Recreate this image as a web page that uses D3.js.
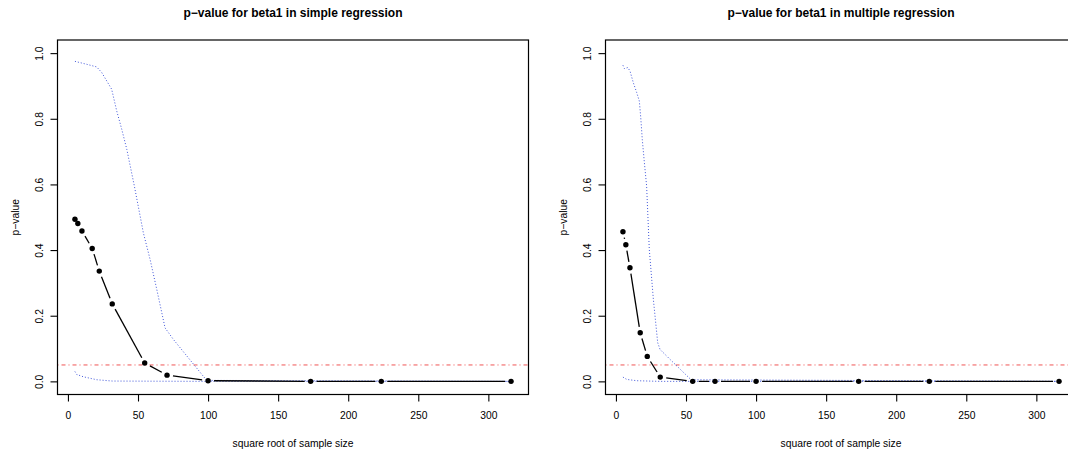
<!DOCTYPE html>
<html>
<head>
<meta charset="utf-8">
<script src="https://cdn.jsdelivr.net/npm/d3@7"></script>
<style>
  body { margin: 0; background: #fff; }
  svg { display: block; font-family: 'Liberation Sans', Arial, sans-serif; }
</style>
</head>
<body>
<svg id="chart" width="1068" height="453"></svg>
<script>
// p-values for beta1 vs square root of sample size, two panels

const sqrtN = [5, 7.07, 10, 17.32, 22.36, 31.62, 54.77, 70.71, 100, 173.2, 223.6, 316.2];
const pSimple = [0.494, 0.481, 0.458, 0.405, 0.336, 0.236, 0.056, 0.019, 0.002, 0, 0, 0];
const pMultiple = [0.456, 0.416, 0.346, 0.148, 0.076, 0.013, 0, 0, 0, 0, 0, 0];

// dotted blue bounds
const upperSimpleX = [5, 13.4, 20.5, 24.1, 31.2, 34.8, 38.4, 42, 47.4, 53.8, 58.6, 63.4, 69.3, 75.2, 99, 316.2];
const upperSimpleY = [0.975, 0.966, 0.958, 0.941, 0.89, 0.824, 0.768, 0.707, 0.595, 0.453, 0.372, 0.28, 0.163, 0.128, 0.003, 0];
const lowerSimpleX = [5, 6.3, 11, 20.5, 31.6, 100, 316.2];
const lowerSimpleY = [0.03, 0.021, 0.014, 0.005, 0.001, 0, 0];

const upperMultipleX = [5, 6, 8.4, 10, 12.4, 14.8, 16.7, 17.7, 18.8, 20.3, 21.9, 23.8, 26.7, 29.8, 31.5, 41, 53.6, 316.2];
const upperMultipleY = [0.963, 0.953, 0.956, 0.946, 0.91, 0.88, 0.854, 0.804, 0.737, 0.666, 0.595, 0.402, 0.25, 0.118, 0.097, 0.057, 0.005, 0];
const lowerMultipleX = [5, 7.7, 14.8, 31.6, 316.2];
const lowerMultipleY = [0.013, 0.006, 0.002, 0, 0];

const xTicks = [0, 50, 100, 150, 200, 250, 300];
const yTicks = [0, 0.2, 0.4, 0.6, 0.8, 1.0];
const alpha = 0.05;

const panels = [
  { title: 'p\u2212value for beta1 in simple regression', left: 57.5, p: pSimple,
    upX: upperSimpleX, upY: upperSimpleY, loX: lowerSimpleX, loY: lowerSimpleY },
  { title: 'p\u2212value for beta1 in multiple regression', left: 605.5, p: pMultiple,
    upX: upperMultipleX, upY: upperMultipleY, loX: lowerMultipleX, loY: lowerMultipleY }
];

const svg = d3.select('#chart');
const boxW = 471, boxTop = 40, boxBottom = 394.5;
const fs = 10.3;

// R-style 4% extension of the data range
const xr = d3.extent(sqrtN), xpad = (xr[1] - xr[0]) * 0.04;

panels.forEach(pn => {
  const g = svg.append('g');
  const x = d3.scaleLinear().domain([xr[0] - xpad, xr[1] + xpad]).range([pn.left, pn.left + boxW]);
  const y = d3.scaleLinear().domain([-0.04, 1.04]).range([boxBottom, boxTop]);

  // clip for lines inside box
  const clipId = 'clip' + Math.round(pn.left);
  svg.append('clipPath').attr('id', clipId)
    .append('rect').attr('x', pn.left).attr('y', boxTop).attr('width', boxW).attr('height', boxBottom - boxTop);
  const inner = g.append('g').attr('clip-path', `url(#${clipId})`);

  // alpha line
  inner.append('line')
    .attr('x1', pn.left).attr('x2', pn.left + boxW)
    .attr('y1', y(alpha)).attr('y2', y(alpha))
    .attr('stroke', '#ee2b2b').attr('stroke-opacity', 0.8)
    .attr('stroke-width', 1).attr('stroke-dasharray', '1,3,4,3');

  // dotted bounds
  const line = d3.line().x(d => x(d[0])).y(d => y(d[1]));
  [[pn.upX, pn.upY], [pn.loX, pn.loY]].forEach(([xs, ys]) => {
    inner.append('path')
      .attr('d', line(xs.map((v, i) => [v, ys[i]])))
      .attr('fill', 'none')
      .attr('stroke', '#3f55d8')
      .attr('stroke-width', 1)
      .attr('stroke-dasharray', '1,2');
  });

  // type="b" line: segments with gaps around points
  const pts = sqrtN.map((v, i) => [x(v), y(pn.p[i])]);
  const gap = 6;
  for (let i = 0; i < pts.length - 1; i++) {
    const [x1, y1] = pts[i], [x2, y2] = pts[i + 1];
    const len = Math.hypot(x2 - x1, y2 - y1);
    if (len <= 2 * gap) continue;
    const ux = (x2 - x1) / len, uy = (y2 - y1) / len;
    inner.append('line')
      .attr('x1', x1 + ux * gap).attr('y1', y1 + uy * gap)
      .attr('x2', x2 - ux * gap).attr('y2', y2 - uy * gap)
      .attr('stroke', '#000').attr('stroke-width', 1.3);
  }
  inner.selectAll('circle.pt')
    .data(sqrtN)
    .join('circle')
    .attr('class', 'pt')
    .attr('cx', d => x(d))
    .attr('cy', (d, i) => y(pn.p[i]))
    .attr('r', 2.7)
    .attr('fill', '#000');

  // box
  g.append('rect')
    .attr('x', pn.left).attr('y', boxTop)
    .attr('width', boxW).attr('height', boxBottom - boxTop)
    .attr('fill', 'none').attr('stroke', '#000').attr('stroke-width', 1.2);

  // x axis
  const xa = g.append('g')
    .attr('transform', `translate(0,${boxBottom})`)
    .call(d3.axisBottom(x).tickValues(xTicks).tickSize(7).tickSizeOuter(0).tickPadding(10));
  xa.select('.domain').remove();
  xa.selectAll('line').attr('stroke', '#000').attr('stroke-width', 1.1);
  xa.selectAll('text').attr('font-size', fs).attr('fill', '#000');
  xa.attr('font-family', null);

  // y axis with rotated labels
  const ya = g.append('g')
    .attr('transform', `translate(${pn.left},0)`)
    .call(d3.axisLeft(y).tickValues(yTicks).tickFormat(d3.format('.1f')).tickSize(7).tickSizeOuter(0));
  ya.select('.domain').remove();
  ya.selectAll('line').attr('stroke', '#000').attr('stroke-width', 1.1);
  ya.selectAll('text')
    .attr('x', null).attr('dy', '0.35em')
    .attr('transform', 'translate(-18.2,0) rotate(-90)')
    .attr('text-anchor', 'middle')
    .attr('font-size', fs).attr('fill', '#000');
  ya.attr('font-family', null);

  // titles and axis labels
  const cx = pn.left + boxW / 2;
  g.append('text')
    .attr('x', cx).attr('y', 17)
    .attr('text-anchor', 'middle')
    .attr('font-size', 12).attr('font-weight', 'bold')
    .text(pn.title);
  g.append('text')
    .attr('x', cx).attr('y', 447)
    .attr('text-anchor', 'middle')
    .attr('font-size', fs)
    .text('square root of sample size');
  g.append('text')
    .attr('transform', `translate(${pn.left - 42.5},${(boxTop + boxBottom) / 2}) rotate(-90)`)
    .attr('dy', '0.35em')
    .attr('text-anchor', 'middle')
    .attr('font-size', fs)
    .text('p\u2212value');
});
</script>
</body>
</html>
